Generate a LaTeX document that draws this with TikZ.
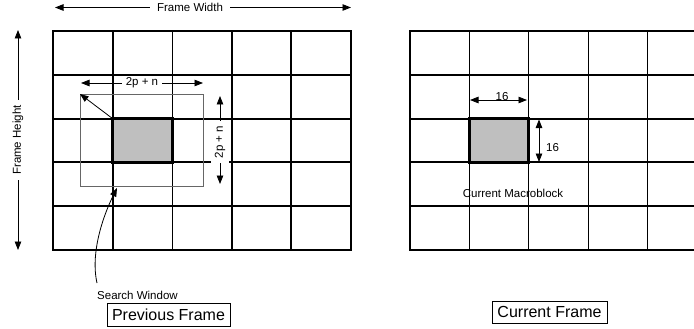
\documentclass[tikz,border=0pt]{standalone}
\usepackage{fontspec}
\setmainfont{Liberation Sans}
\usetikzlibrary{arrows.meta}
\tikzset{
  arr/.style={-{Triangle[length=8.5pt,width=6.5pt]}, line width=0.8pt},
  dblarr/.style={{Triangle[length=8.5pt,width=6.5pt]}-{Triangle[length=8.5pt,width=6.5pt]}, line width=0.8pt},
  thickline/.style={line width=2pt, line cap=rect},
  thinline/.style={line width=1pt},
  smalltext/.style={font=\fontsize{11.5}{13}\selectfont, inner sep=1pt},
  bigtext/.style={font=\fontsize{16}{18}\selectfont},
  framebox/.style={draw, line width=0.6pt, inner sep=0pt, minimum height=22pt},
  macroblock/.style={draw, fill=gray!50, line width=3.2pt},
  window/.style={draw=gray!80!black, line width=0.7pt}
}
\begin{document}
\begin{tikzpicture}[x=1pt,y=-1pt]
  \clip (0,0) rectangle (694,329);
  {\fontsize{11.5}{13}\selectfont

  % Drawing grid of previous frame
  \foreach \j in {0,...,5}
    \draw [thickline] (53,31+43.8*\j) -- (351,31+43.8*\j);
  \foreach \i in {0,1,3,4,5}
    \draw [thickline] (53+59.6*\i,31) -- (53+59.6*\i,250);
  \draw [thinline] (172.2,31) -- (172.2,250);

  % Drawing grid of current frame
  \node [smalltext] (curmb) at (513,193) {Current Macroblock};
  \foreach \j in {0,...,5}
    \draw [thickline] (410,31+43.8*\j) -- (707,31+43.8*\j);
  \draw [thickline] (410,31) -- (410,250);
  \foreach \i in {1,...,5}
    \draw [thinline] (410+59.4*\i,31) -- (410+59.4*\i,250);

  % Marking search window
  \coordinate (swNW) at (80,94);
  \coordinate (swSE) at (203,186);
  \draw [window] (swNW) rectangle (swSE);

  % Marking macroblock of previous frame
  \coordinate (pbNW) at (112.6,118.6);
  \coordinate (pbSE) at (172.2,162.4);
  \draw [macroblock] (pbNW) rectangle (pbSE);
  \draw [arr] (pbNW) -- (swNW);

  % Marking macroblock of current frame
  \coordinate (cbNW) at (469.4,118.6);
  \coordinate (cbSE) at (528.8,162.4);
  \draw [macroblock] (cbNW) rectangle (cbSE);

  % Drawing frame width
  \coordinate (fwL) at (55,7.5);
  \coordinate (fwR) at (351,7.5);
  \node [smalltext, inner xsep=7pt] (fw) at (190,7.5) {Frame Width};
  \draw [arr] (fw) -- (fwL);
  \draw [arr] (fw) -- (fwR);

  % Drawing frame height
  \coordinate (fhT) at (18,30);
  \coordinate (fhB) at (18,250);
  \node [smalltext, rotate=90, inner xsep=5pt] (fh) at (18,140) {Frame Height};
  \draw [arr] (fh) -- (fhT);
  \draw [arr] (fh) -- (fhB);

  % Drawing window width 2p + n
  \coordinate (wwL) at (81,83);
  \coordinate (wwR) at (203,83);
  \node [smalltext, fill=white, inner xsep=4pt] (ww) at (142,83) {2p + n};
  \draw [arr] (ww) -- (wwL);
  \draw [arr] (ww) -- (wwR);

  % Drawing window height 2p + n
  \coordinate (whT) at (220,96);
  \coordinate (whB) at (220,184);
  \node [smalltext, rotate=90, fill=white, inner xsep=5pt, inner ysep=4pt] (wh) at (220,142) {2p + n};
  \draw [arr] (wh) -- (whT);
  \draw [arr] (wh) -- (whB);

  % Marking search window label
  \coordinate (slTail) at (97,283);
  \coordinate (slTip) at (117,188);
  \draw [arr] (slTail) .. controls (90,252) and (104,214) .. (slTip);
  \node [smalltext, anchor=west] (sl) at (96,295) {Search Window};

  % Marking block size 16
  \coordinate (hsL) at (470,100);
  \coordinate (hsR) at (527,100);
  \node [smalltext] (hs) at (502,97) {16};
  \draw [dblarr] (hsL) -- (hsR);
  \coordinate (vsT) at (539,119.5);
  \coordinate (vsB) at (539,162);
  \draw [dblarr] (vsT) -- (vsB);
  \node [smalltext, anchor=west] (vs) at (545,148) {16};

  % Marking frame names
  \node [framebox, bigtext, minimum width=123pt, minimum height=23pt] (prev) at (168.5,314.5) {Previous Frame};
  \node [framebox, bigtext, minimum width=115pt] (cur) at (549.5,312) {Current Frame};
  }
\end{tikzpicture}
\end{document}
